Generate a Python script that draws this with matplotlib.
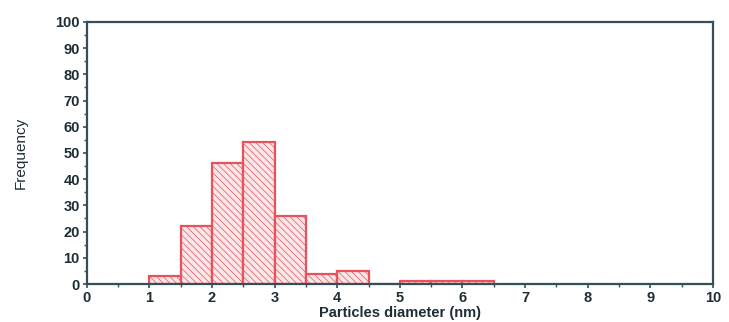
import matplotlib
matplotlib.use('Agg')
import matplotlib.pyplot as plt
import numpy as np

# Données (largeur des classes 0.5 nm)
bin_left = [1.0, 1.5, 2.0, 2.5, 3.0, 3.5, 4.0, 4.5, 5.0, 5.5, 6.0]
frequency = [3, 22, 46, 54, 26, 4, 5, 0, 1, 1, 1]
bin_width = 0.5

plt.rcParams['font.family'] = ['Liberation Sans', 'DejaVu Sans']
plt.rcParams['hatch.color'] = '#f3aab1'
plt.rcParams['hatch.linewidth'] = 0.5

axis_color = '#33505a'

fig = plt.figure(figsize=(7.29, 3.22), dpi=100)
ax = fig.add_axes([0.119, 0.118, 0.859, 0.814])

ax.bar(bin_left, frequency, width=bin_width, align='edge',
       facecolor='#fbe6e8', edgecolor='#e8525c', linewidth=1.6,
       hatch='\\\\\\\\\\', zorder=2)

ax.set_xlim(0, 10)
ax.set_ylim(0, 100)
ax.set_xticks(np.arange(0, 11, 1))
ax.set_xticks(np.arange(0.5, 10, 1), minor=True)
ax.set_yticks(np.arange(0, 101, 10))
ax.set_yticks(np.arange(5, 100, 10), minor=True)

for s in ax.spines.values():
    s.set_color(axis_color)
    s.set_linewidth(1.6)

ax.tick_params(axis='both', which='major', direction='out', length=3,
               width=1.2, color=axis_color, labelsize=10.5, labelcolor='#1e2e34',
               pad=2)
ax.tick_params(axis='both', which='minor', direction='out', length=2,
               width=1.0, color=axis_color)
for lbl in ax.get_xticklabels() + ax.get_yticklabels():
    lbl.set_fontweight('bold')

ax.set_xlabel('Particles diameter (nm)', fontsize=10.5, fontweight='bold',
              color='#1e2e34', labelpad=1)
ax.set_ylabel('Frequency', fontsize=11, color='#1e2e34', labelpad=20)

fig.savefig('out.png', dpi=100)
